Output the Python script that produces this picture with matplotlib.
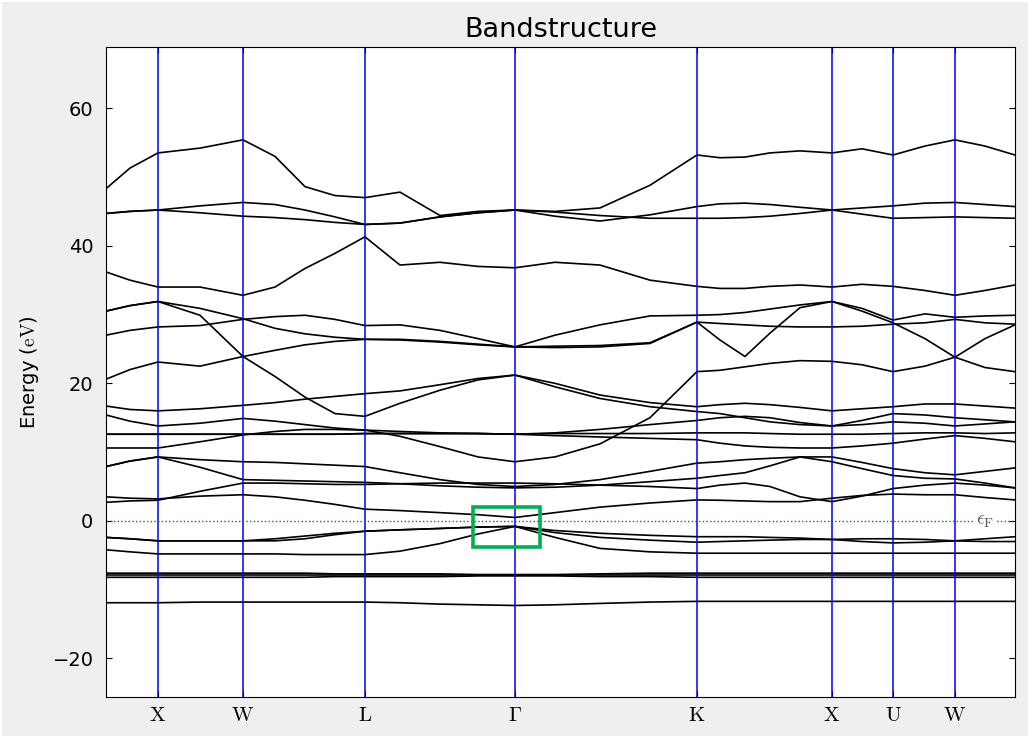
import matplotlib
matplotlib.use('Agg')
import matplotlib.pyplot as plt
from matplotlib.patches import Rectangle

plt.rcParams['mathtext.fontset'] = 'cm'

# distance along the k-path for every sampled column
kdist = [0.00, 0.24, 0.52, 0.94, 1.37, 1.69, 1.99, 2.29, 2.59, 2.94, 3.34, 3.72, 4.09, 4.49,
         4.94, 5.44, 5.91, 6.14, 6.39, 6.64, 6.94, 7.26, 7.56, 7.87, 8.19, 8.49, 8.79, 9.09]

kticks = [0.52, 1.37, 2.59, 4.09, 5.91, 7.26, 7.87, 8.49]
klabels = ['X', 'W', 'L', r'\Gamma', 'K', 'X', 'U', 'W']

# band energies (eV) at each column
band_top = [48.3, 51.3, 53.5, 54.2, 55.4, 53.0, 48.6, 47.3, 47.0, 47.8, 44.4, 45.0, 45.2, 45.0,
            45.5, 48.8, 53.2, 52.8, 52.9, 53.5, 53.8, 53.5, 54.1, 53.2, 54.5, 55.4, 54.5, 53.2]
band_45a = [44.7, 45.0, 45.2, 45.8, 46.3, 46.0, 45.2, 44.2, 43.1, 43.3, 44.2, 44.8, 45.2, 44.3,
            43.6, 44.5, 45.7, 46.1, 46.2, 46.0, 45.6, 45.2, 45.5, 45.8, 46.2, 46.3, 46.0, 45.7]
band_45b = [44.7, 45.0, 45.2, 44.8, 44.3, 44.1, 43.8, 43.4, 43.1, 43.3, 44.2, 44.8, 45.2, 44.9,
            44.4, 44.0, 44.0, 44.0, 44.1, 44.3, 44.7, 45.2, 44.6, 44.0, 44.1, 44.2, 44.1, 44.0]
band_36 = [36.2, 35.0, 34.0, 34.0, 32.8, 34.0, 36.7, 38.9, 41.3, 37.2, 37.6, 37.0, 36.8, 37.6,
           37.2, 35.0, 34.1, 33.8, 33.8, 34.1, 34.3, 34.0, 34.4, 34.1, 33.5, 32.8, 33.5, 34.3]
band_l1 = [30.5, 31.3, 31.9, 30.9, 29.4, 28.0, 27.2, 26.7, 26.4, 26.3, 26.0, 25.6, 25.3, 25.4,
           25.5, 25.9, 28.9, 28.7, 28.5, 28.3, 28.2, 28.2, 28.3, 28.6, 28.8, 29.3, 28.8, 28.6]
band_l2 = [30.5, 31.3, 31.9, 29.9, 23.9, 21.0, 18.0, 15.6, 15.2, 17.1, 19.0, 20.5, 21.2, 19.5,
           17.8, 16.6, 15.9, 15.6, 15.0, 14.4, 14.0, 13.8, 14.6, 15.6, 15.4, 15.0, 14.7, 14.4]
band_l3 = [20.6, 22.0, 23.1, 22.5, 23.9, 24.8, 25.6, 26.1, 26.4, 26.4, 26.1, 25.7, 25.3, 25.2,
           25.3, 25.8, 28.9, 26.3, 23.9, 27.3, 31.0, 31.9, 30.5, 28.8, 26.5, 23.8, 22.3, 21.7]
band_l4 = [27.0, 27.7, 28.2, 28.4, 29.3, 29.7, 29.9, 29.3, 28.4, 28.5, 27.7, 26.5, 25.3, 27.0,
           28.5, 29.8, 29.9, 30.0, 30.3, 30.8, 31.4, 31.9, 30.9, 29.2, 30.1, 29.6, 29.8, 29.9]
band_21 = [15.4, 14.5, 13.8, 14.2, 14.9, 14.5, 14.0, 13.5, 13.2, 12.3, 10.8, 9.3, 8.6, 9.3,
           11.2, 15.0, 21.7, 21.9, 22.4, 22.9, 23.3, 23.2, 22.7, 21.7, 22.5, 23.8, 26.5, 28.5]
band_16 = [16.7, 16.2, 16.0, 16.3, 16.8, 17.2, 17.7, 18.1, 18.5, 18.9, 19.8, 20.7, 21.2, 20.0,
           18.3, 17.2, 16.6, 16.9, 17.1, 16.9, 16.5, 16.0, 16.3, 16.6, 17.0, 17.0, 16.7, 16.4]
band_14 = [10.6, 10.6, 10.6, 11.5, 12.5, 13.0, 13.3, 13.3, 13.2, 13.0, 12.8, 12.7, 12.6, 12.8,
           13.3, 14.0, 14.6, 15.0, 15.2, 15.0, 14.3, 13.8, 14.0, 14.4, 14.2, 13.8, 14.1, 14.4]
band_12 = [12.6, 12.6, 12.6, 12.6, 12.6, 12.6, 12.6, 12.6, 12.7, 12.7, 12.7, 12.7, 12.6, 12.7,
           12.7, 12.7, 12.8, 12.8, 12.8, 12.7, 12.6, 12.6, 12.6, 12.7, 12.8, 12.8, 12.7, 12.8]
band_11 = [12.6, 12.6, 12.6, 12.6, 12.6, 12.6, 12.6, 12.6, 12.7, 12.7, 12.7, 12.7, 12.6, 12.4,
           12.2, 12.0, 11.8, 11.3, 10.9, 10.7, 10.6, 10.6, 10.9, 11.3, 11.9, 12.4, 12.0, 11.5]
band_8 = [7.9, 8.7, 9.3, 8.9, 8.6, 8.5, 8.3, 8.1, 7.9, 7.0, 6.0, 5.3, 5.0, 5.3,
          6.0, 7.2, 8.4, 8.6, 8.9, 9.1, 9.3, 9.3, 8.5, 7.6, 7.0, 6.7, 7.2, 7.7]
band_6 = [7.9, 8.7, 9.3, 7.8, 6.0, 5.9, 5.8, 5.7, 5.6, 5.4, 5.1, 4.9, 4.8, 4.9,
          5.2, 5.7, 6.2, 6.6, 7.0, 8.0, 9.3, 8.6, 7.6, 6.6, 6.2, 6.1, 5.5, 4.8]
band_5 = [2.7, 2.9, 3.0, 4.3, 5.5, 5.5, 5.4, 5.3, 5.3, 5.4, 5.5, 5.5, 5.5, 5.4,
          5.2, 5.0, 4.7, 5.2, 5.5, 5.0, 3.5, 2.8, 3.6, 4.7, 5.2, 5.5, 5.2, 4.8]
band_3 = [3.5, 3.3, 3.2, 3.6, 3.8, 3.5, 3.0, 2.4, 1.7, 1.5, 1.2, 0.9, 0.5, 1.2,
          2.0, 2.6, 3.05, 3.0, 2.9, 2.8, 2.8, 3.3, 3.7, 3.9, 3.8, 3.8, 3.4, 3.05]
band_n1 = [-2.4, -2.6, -2.9, -2.9, -2.9, -2.6, -2.2, -1.8, -1.5, -1.3, -1.1, -0.9, -0.8, -1.4,
           -1.8, -2.1, -2.3, -2.3, -2.3, -2.4, -2.5, -2.7, -2.6, -2.6, -2.7, -2.9, -2.6, -2.3]
band_n2 = [-2.4, -2.6, -2.9, -2.9, -2.9, -2.9, -2.6, -2.0, -1.5, -1.3, -1.1, -0.9, -0.8, -1.7,
           -2.4, -2.8, -3.1, -3.0, -2.9, -2.8, -2.7, -2.7, -3.0, -3.2, -3.1, -2.9, -3.0, -3.0]
band_n4 = [-4.2, -4.5, -4.8, -4.8, -4.8, -4.8, -4.9, -4.9, -4.9, -4.4, -3.3, -1.9, -0.8, -2.4,
           -4.0, -4.5, -4.7, -4.7, -4.7, -4.7, -4.7, -4.7, -4.7, -4.7, -4.7, -4.7, -4.7, -4.7]
band_d1 = [-7.6, -7.6, -7.6, -7.6, -7.6, -7.6, -7.6, -7.7, -7.7, -7.7, -7.7, -7.8, -7.8, -7.8,
           -7.7, -7.6, -7.6, -7.6, -7.6, -7.6, -7.6, -7.6, -7.6, -7.6, -7.6, -7.6, -7.6, -7.6]
band_d2 = [-7.9, -7.9, -7.9, -7.9, -7.9, -7.9, -7.9, -7.9, -7.9, -7.9, -7.9, -7.9, -7.9, -7.9,
           -7.9, -7.9, -7.9, -7.9, -7.9, -7.9, -7.9, -7.9, -7.9, -7.9, -7.9, -7.9, -7.9, -7.9]
band_d3 = [-8.2, -8.2, -8.2, -8.2, -8.2, -8.2, -8.2, -8.1, -8.1, -8.1, -8.1, -8.0, -8.0, -8.0,
           -8.1, -8.1, -8.2, -8.2, -8.2, -8.2, -8.2, -8.2, -8.2, -8.2, -8.2, -8.2, -8.2, -8.2]
band_bot = [-11.9, -11.9, -11.9, -11.8, -11.8, -11.8, -11.8, -11.8, -11.8, -11.9, -12.1, -12.2, -12.3, -12.2,
            -12.0, -11.8, -11.7, -11.7, -11.7, -11.7, -11.7, -11.7, -11.7, -11.7, -11.7, -11.7, -11.7, -11.7]

bands = [band_top, band_45a, band_45b, band_36, band_l1, band_l2, band_l3, band_l4,
         band_21, band_16, band_14, band_12, band_11, band_8, band_6, band_5, band_3,
         band_n1, band_n2, band_n4, band_d1, band_d2, band_d3, band_bot]

e_fermi = 0.0
box_k = (3.67, 4.34)
box_e = (-3.8, 2.0)

fig = plt.figure(figsize=(10.3, 7.38), dpi=100, facecolor='#efefef')
ax = fig.add_axes([0.1029, 0.0556, 0.8825, 0.8807])

for b in bands:
    ax.plot(kdist, b, color='k', lw=1.2)

for k in kticks:
    ax.axvline(k, color='#0000ff', lw=1.1)

ax.axhline(e_fermi, color='g', ls=':', lw=1)
ax.text(8.79, e_fermi, r'$\epsilon_\mathrm{F}$', color='#555555', fontsize=14,
        ha='center', va='center', bbox=dict(fc='white', ec='none', pad=1))

ax.add_patch(Rectangle((box_k[0], box_e[0]), box_k[1] - box_k[0], box_e[1] - box_e[0],
                       fill=False, ec='#00b050', lw=2.6, zorder=5))

ax.set_xlim(kdist[0], kdist[-1])
ax.set_ylim(-25.6, 68.9)
ax.set_xticks(kticks)
ax.set_xticklabels(['$\\mathrm{%s}$' % s if s != r'\Gamma' else r'$\Gamma$' for s in klabels],
                   fontsize=15)
ax.set_yticks([-20, 0, 20, 40, 60])
ax.tick_params(direction='in', top=True, right=True, length=4)
ax.tick_params(axis='y', labelsize=14, pad=9)
ax.tick_params(axis='x', pad=6)
ax.set_ylabel(r'Energy ($\mathrm{eV}$)', fontsize=14, labelpad=8)
ax.set_title('Bandstructure', fontsize=19.5, pad=7)

# thin white frame round the whole picture
fig.patches.append(Rectangle((0, 0), 1, 1, transform=fig.transFigure, fill=False,
                             ec='white', lw=3))

fig.savefig('out.png', dpi=100, facecolor=fig.get_facecolor())
